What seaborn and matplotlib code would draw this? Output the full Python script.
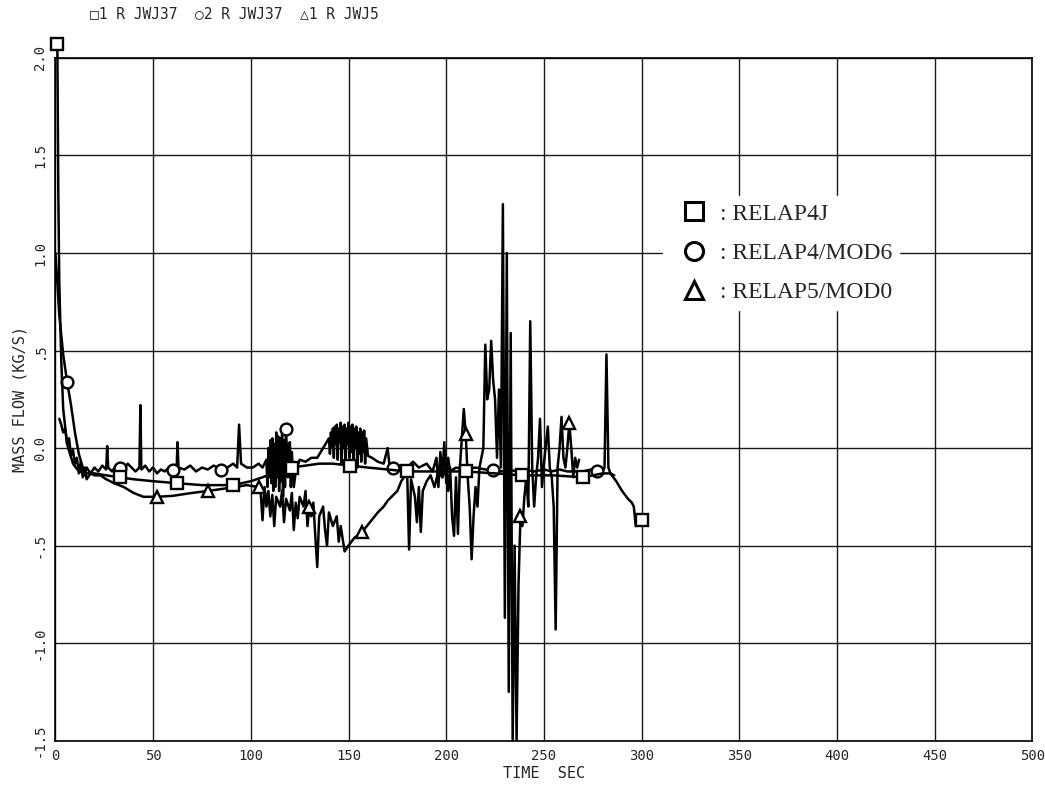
import matplotlib
matplotlib.use("Agg")
import matplotlib.pyplot as plt
from matplotlib.lines import Line2D
import seaborn as sns
import pandas as pd

# ---------------- data (time s, mass flow kg/s) ----------------
# RELAP4J (square)
sq_pts = [(1, 2.07), (1.5, 1.3), (2, 0.85), (3, 0.45), (4, 0.2), (6, 0.02), (9, -0.08),
          (12, -0.12), (16, -0.13), (20, -0.13), (26, -0.14), (33, -0.15), (40, -0.16),
          (50, -0.17), (62, -0.18), (75, -0.19), (91, -0.19), (100, -0.17), (106, -0.15),
          (111, -0.13), (116, -0.11), (121, -0.1), (128, -0.09), (135, -0.08), (142, -0.08),
          (151, -0.09), (160, -0.1), (170, -0.11), (180, -0.12), (195, -0.12), (210, -0.12),
          (225, -0.13), (239, -0.14), (255, -0.14), (270, -0.15), (280, -0.13), (284, -0.13),
          (287, -0.17), (290, -0.22), (293, -0.26), (295, -0.28), (296, -0.3), (297, -0.4),
          (298, -0.37), (300, -0.37), (303, -0.37)]
sq_marks = [1, 33, 62, 91, 121, 151, 180, 210, 239, 270, 300]

# RELAP4/MOD6 (circle)
ci_pts = [(0, 1.0), (1, 0.85), (2, 0.68), (4, 0.48), (6, 0.34), (8, 0.22), (10, 0.08),
          (12, -0.03), (14, -0.1), (15, -0.14), (16, -0.1), (18, -0.13), (20, -0.1),
          (22, -0.12), (24, -0.09), (26, -0.11), (26.5, 0.01), (27, -0.1), (29, -0.12),
          (31, -0.09), (33, -0.1), (35, -0.11), (37, -0.08), (39, -0.1), (41, -0.12),
          (43, -0.1), (43.5, 0.22), (44, -0.11), (46, -0.09), (48, -0.12), (50, -0.1),
          (52, -0.13), (54, -0.11), (56, -0.12), (58, -0.1), (60, -0.11), (62, -0.12),
          (62.5, 0.03), (63, -0.1), (66, -0.11), (69, -0.09), (72, -0.12), (75, -0.1),
          (78, -0.11), (81, -0.09), (85, -0.11), (88, -0.1), (91, -0.08), (93, -0.1),
          (94, 0.12), (95, -0.08), (98, -0.1), (101, -0.1), (104, -0.08), (106, -0.1),
          (108, -0.06), (108.5, -0.2), (109, 0.0), (109.5, -0.15), (110, 0.04), (110.5, -0.18),
          (111, 0.05), (111.5, -0.22), (112, 0.02), (112.5, -0.2), (113, 0.08), (113.5, -0.15),
          (114, 0.06), (114.5, -0.22), (115, 0.05), (115.5, -0.17), (116, 0.07), (116.5, -0.25),
          (117, 0.04), (117.5, -0.2), (118, 0.1), (119, -0.15), (119.5, 0.02), (120, 0.03),
          (120.5, -0.2), (121, -0.02), (122, -0.2), (123, -0.12), (125, -0.06), (128, -0.07),
          (131, -0.05), (134, -0.05), (137, 0.0), (140, 0.05), (140.5, -0.03), (141, 0.08),
          (141.5, 0.0), (142, 0.1), (142.5, -0.05), (143, 0.11), (143.5, 0.02), (144, 0.12),
          (144.5, -0.06), (145, 0.1), (145.5, 0.03), (146, 0.13), (146.5, -0.08), (147, 0.11),
          (147.5, 0.0), (148, 0.12), (148.5, -0.1), (149, 0.1), (149.5, 0.02), (150, 0.13),
          (150.5, -0.05), (151, 0.11), (151.5, -0.02), (152, 0.12), (152.5, -0.08), (153, 0.1),
          (153.5, 0.0), (154, 0.11), (154.5, -0.1), (155, 0.08), (155.5, -0.03), (156, 0.1),
          (156.5, -0.07), (157, 0.08), (157.5, -0.02), (158, 0.09), (158.5, -0.08), (159, 0.05),
          (160, -0.04), (162, -0.05), (165, -0.07), (168, -0.08), (170, 0.0), (171, -0.09),
          (173, -0.1), (176, -0.09), (180, -0.1), (183, -0.07), (186, -0.1), (190, -0.08),
          (193, -0.12), (195, -0.05), (196, -0.2), (197, -0.02), (198, -0.15), (199, 0.03),
          (200, -0.18), (201, -0.05), (202, -0.12), (205, -0.1), (210, -0.11), (215, -0.1),
          (220, -0.11), (224, -0.11), (228, -0.12), (232, -0.11), (236, -0.12), (240, -0.11),
          (245, -0.12), (250, -0.11), (254, -0.12), (258, -0.11), (262, -0.12), (266, -0.12),
          (270, -0.12), (274, -0.11), (277, -0.12), (280, -0.12), (281, -0.1), (282, 0.48),
          (283, -0.1), (284, -0.13), (286, -0.14)]
ci_marks = [6, 33, 60, 85, 118, 173, 224, 277]

# RELAP5/MOD0 (triangle)
tr_pts = [(2, 0.15), (3, 0.12), (4, 0.08), (5, 0.1), (6, 0.02), (7, 0.05), (8, -0.04),
          (9, -0.01), (10, -0.08), (11, -0.05), (12, -0.13), (13, -0.07), (14, -0.15),
          (15, -0.1), (16, -0.16), (18, -0.13), (20, -0.14), (23, -0.14), (26, -0.16),
          (30, -0.18), (35, -0.2), (40, -0.23), (45, -0.25), (52, -0.25), (60, -0.245),
          (70, -0.23), (78, -0.22), (85, -0.21), (92, -0.2), (98, -0.19), (104, -0.2),
          (105, -0.22), (106, -0.37), (107, -0.2), (108, -0.3), (109, -0.22), (110, -0.35),
          (111, -0.24), (112, -0.4), (113, -0.25), (115, -0.3), (116, -0.22), (117, -0.38),
          (118, -0.26), (120, -0.32), (121, -0.23), (122, -0.42), (123, -0.28), (124, -0.36),
          (125, -0.25), (127, -0.3), (128, -0.22), (129, -0.4), (130, -0.3), (131, -0.35),
          (132, -0.28), (133, -0.45), (134, -0.61), (135, -0.35), (137, -0.3), (138, -0.42),
          (139, -0.5), (140, -0.33), (142, -0.4), (144, -0.35), (145, -0.48), (146, -0.4),
          (148, -0.53), (150, -0.5), (153, -0.46), (157, -0.43), (161, -0.38), (165, -0.33),
          (168, -0.3), (170, -0.27), (172, -0.25), (175, -0.22), (177, -0.17), (179, -0.14),
          (180, -0.12), (181, -0.52), (182, -0.16), (184, -0.25), (185, -0.38), (186, -0.2),
          (187, -0.43), (188, -0.22), (190, -0.17), (192, -0.14), (194, -0.2), (196, -0.12),
          (198, -0.15), (200, -0.1), (201, -0.22), (202, -0.1), (203, -0.35), (204, -0.45),
          (205, -0.15), (206, -0.44), (207, -0.1), (208, 0.05), (209, 0.2), (210, 0.07),
          (211, -0.15), (212, -0.3), (213, -0.57), (214, -0.35), (215, -0.2), (216, -0.3),
          (217, -0.1), (218, -0.05), (219, 0.0), (220, 0.53), (221, 0.25), (222, 0.3),
          (223, 0.55), (224, 0.35), (225, 0.25), (226, -0.05), (227, 0.3), (228, -0.1),
          (229, 1.25), (230, -0.87), (231, 1.0), (232, -1.25), (233, 0.59), (234, -1.5),
          (235, -0.5), (236, -1.5), (237, -0.7), (238, -0.35), (239, -0.4), (240, -0.25),
          (241, -0.15), (242, -0.3), (243, 0.65), (244, -0.1), (245, -0.3), (246, -0.15),
          (247, -0.05), (248, 0.15), (249, -0.2), (250, -0.08), (252, 0.11), (253, -0.1),
          (254, -0.15), (255, -0.3), (256, -0.93), (257, -0.1), (258, 0.0), (259, 0.16),
          (260, -0.05), (261, -0.1), (262, 0.0), (263, 0.13), (264, 0.0), (265, -0.15),
          (266, -0.05), (267, -0.1), (268, -0.06)]
tr_marks = [52, 78, 104, 130, 157, 210, 238, 263]

x_ticks = [0, 50, 100, 150, 200, 250, 300, 350, 400, 450, 500]
y_ticks = [-1.5, -1.0, -0.5, 0.0, 0.5, 1.0, 1.5, 2.0]
y_tick_labels = ["-1.5", "-1.0", "-.5", "0.0", ".5", "1.0", "1.5", "2.0"]
legend_labels = [": RELAP4J", ": RELAP4/MOD6", ": RELAP5/MOD0"]
header = "\u25a11 R JWJ37  \u25cb2 R JWJ37  \u25b31 R JWJ5"

# ---------------- figure ----------------
sns.set_style("white")
plt.rcParams["font.family"] = ["DejaVu Sans Mono", "DejaVu Sans"]

fig = plt.figure(figsize=(10.45, 7.93), dpi=100)
ax = fig.add_axes([0.053, 0.066, 0.935, 0.861])

mk = dict(markerfacecolor="white", markeredgecolor="black", markeredgewidth=1.7,
          markersize=8.5)

def draw(pts, marks, marker, clip=True):
    df = pd.DataFrame(pts, columns=["t", "v"])
    t = [p[0] for p in pts]
    idx = [t.index(m) for m in marks]
    sns.lineplot(data=df, x="t", y="v", estimator=None, sort=False, ax=ax,
                 color="black", lw=1.8, marker=marker, markevery=idx, clip_on=clip,
                 zorder=3, **mk)

draw(tr_pts, tr_marks, "^")
draw(ci_pts, ci_marks, "o")
draw(sq_pts, sq_marks, "s", clip=False)

ax.set_xlim(0, 500)
ax.set_ylim(-1.5, 2.0)
ax.set_xticks(x_ticks)
ax.set_xticklabels([str(x) for x in x_ticks], fontsize=10)
ax.set_yticks(y_ticks)
ax.set_yticklabels(y_tick_labels, fontsize=10, rotation=90, va="center")
ax.tick_params(axis="both", length=0, pad=6)
ax.grid(True, color="0.1", lw=1.0)
ax.set_axisbelow(True)
for s in ax.spines.values():
    s.set_color("black")
    s.set_linewidth(1.2)

ax.set_xlabel("TIME  SEC", fontsize=11, labelpad=2)
ax.set_ylabel("MASS FLOW (KG/S)", fontsize=11, labelpad=4)

fig.text(0.086, 0.983, header, fontsize=10.5, va="center", ha="left")

handles = [Line2D([], [], ls="none", marker=m, markerfacecolor="white",
                  markeredgecolor="black", markeredgewidth=2.2, markersize=13)
           for m in ["s", "o", "^"]]
leg = ax.legend(handles, legend_labels, loc="upper left", bbox_to_anchor=(0.61, 0.815),
                frameon=True, facecolor="white", edgecolor="white", framealpha=1,
                handletextpad=0.1, labelspacing=0.75, borderpad=0.3,
                prop={"family": "Liberation Serif", "size": 17})
leg.set_zorder(5)

fig.savefig("out.png", dpi=100)
